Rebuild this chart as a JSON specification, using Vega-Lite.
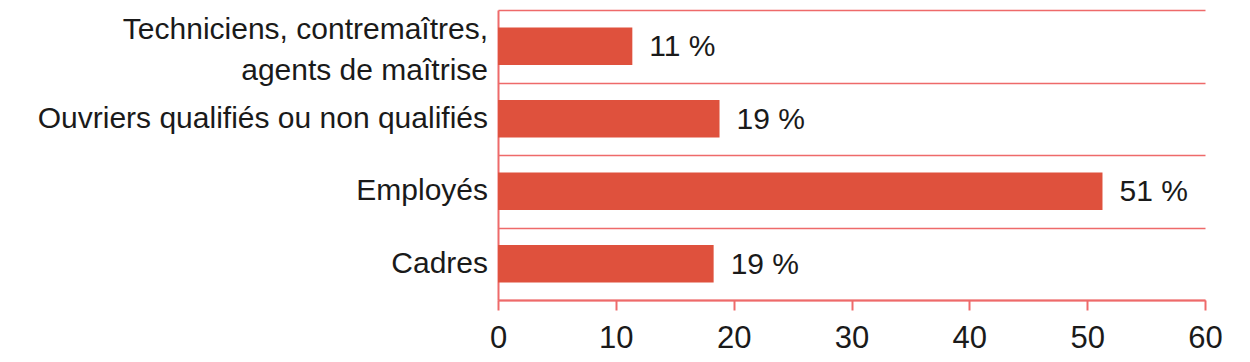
{
  "$schema": "https://vega.github.io/schema/vega-lite/v6.json",
  "width": 707,
  "height": 290,
  "autosize": {"type": "none"},
  "padding": {"left": 498, "top": 10, "right": 45, "bottom": 62},
  "background": "white",
  "config": {
    "view": {"stroke": null},
    "font": "Liberation Sans"
  },
  "data": {
    "values": [
      {"categorie": "Techniciens, contremaîtres,|agents de maîtrise", "valeur": 11.4, "etiquette": "11 %", "deuxLignes": true},
      {"categorie": "Ouvriers qualifiés ou non qualifiés", "valeur": 18.8, "etiquette": "19 %", "deuxLignes": false},
      {"categorie": "Employés", "valeur": 51.3, "etiquette": "51 %", "deuxLignes": false},
      {"categorie": "Cadres", "valeur": 18.3, "etiquette": "19 %", "deuxLignes": false}
    ]
  },
  "encoding": {
    "y": {
      "field": "categorie",
      "type": "nominal",
      "sort": null,
      "scale": {"paddingInner": 0, "paddingOuter": 0},
      "axis": {
        "title": null,
        "labels": false,
        "ticks": false,
        "tickBand": "extent",
        "grid": true,
        "gridColor": "#EE6A6A",
        "gridWidth": 1.5,
        "gridOpacity": 1,
        "domain": true,
        "domainColor": "#EE6A6A",
        "domainWidth": 2
      }
    },
    "x": {
      "field": "valeur",
      "type": "quantitative",
      "scale": {"domain": [0, 60], "nice": false},
      "axis": {
        "title": null,
        "values": [0, 10, 20, 30, 40, 50, 60],
        "grid": false,
        "labelFont": "Liberation Sans",
        "labelFontSize": 31,
        "labelColor": "#1a1a1a",
        "labelPadding": 13,
        "tickColor": "#EE6A6A",
        "tickSize": 10,
        "tickWidth": 2,
        "domainColor": "#EE6A6A",
        "domainWidth": 2,
        "labelFlush": false
      }
    }
  },
  "layer": [
    {"mark": {"type": "bar", "color": "#DF513D", "height": {"band": 0.52}}},
    {
      "mark": {"type": "text", "align": "left", "baseline": "middle", "dx": 17, "dy": 1, "fontSize": 30, "font": "Liberation Sans", "color": "#1a1a1a"},
      "encoding": {"text": {"field": "etiquette"}}
    },
    {
      "transform": [{"filter": "!datum.deuxLignes"}],
      "mark": {"type": "text", "align": "right", "baseline": "middle", "dx": -10, "fontSize": 30, "font": "Liberation Sans", "color": "#1a1a1a"},
      "encoding": {"x": {"datum": 0}, "text": {"field": "categorie"}}
    },
    {
      "transform": [{"filter": "datum.deuxLignes"}],
      "mark": {"type": "text", "align": "right", "baseline": "middle", "dx": -10, "dy": -16, "lineBreak": "|", "lineHeight": 41, "fontSize": 30, "font": "Liberation Sans", "color": "#1a1a1a"},
      "encoding": {"x": {"datum": 0}, "text": {"field": "categorie"}}
    }
  ]
}
